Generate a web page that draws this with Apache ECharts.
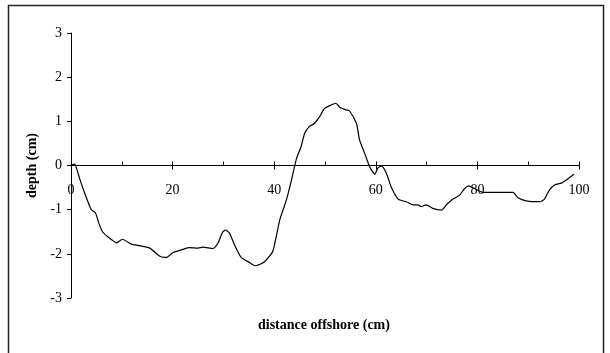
<!DOCTYPE html>
<html><head><meta charset="utf-8">
<script src="https://cdn.jsdelivr.net/npm/echarts@6/dist/echarts.min.js"></script>
<style>html,body{margin:0;padding:0;background:#fff}#c{width:610px;height:353px}</style>
</head><body><div id="c"></div>
<script>
const distance = [0,0.7,1.0,1.8,2.7,3.7,4.0,4.8,5.5,6.2,7.3,9.0,10.1,11.9,13.2,15.5,17.4,18.4,19.0,20.1,22.0,23.3,25.0,26.0,27.9,28.9,29.8,30.4,31.2,32.2,33.5,35.2,36.3,38.1,39.7,40.4,41.1,42.4,43.4,44.4,45.3,46.0,46.9,47.9,48.9,49.9,51.2,52.1,52.9,54.2,54.8,56.2,56.8,57.8,58.8,59.8,60.4,61.1,62.1,63.0,64.4,66.0,67.3,68.3,68.9,69.9,71.2,72.9,73.9,75.2,76.5,77.5,78.3,79.4,81.1,87.0,88.0,89.6,92.3,93.2,94.2,95.2,96.5,97.5,99.0];
const depth = [0,0.03,-0.03,-0.33,-0.63,-0.93,-1.0,-1.07,-1.31,-1.5,-1.62,-1.75,-1.67,-1.78,-1.81,-1.87,-2.05,-2.08,-2.07,-1.97,-1.9,-1.86,-1.87,-1.85,-1.88,-1.76,-1.52,-1.46,-1.53,-1.8,-2.08,-2.2,-2.27,-2.18,-1.95,-1.61,-1.23,-0.78,-0.33,0.16,0.43,0.73,0.88,0.95,1.10,1.29,1.37,1.41,1.32,1.26,1.24,0.95,0.58,0.28,-0.03,-0.2,-0.06,-0.01,-0.18,-0.48,-0.76,-0.82,-0.89,-0.89,-0.93,-0.89,-0.97,-1.01,-0.89,-0.76,-0.67,-0.52,-0.46,-0.52,-0.61,-0.61,-0.73,-0.8,-0.82,-0.76,-0.55,-0.44,-0.40,-0.33,-0.2];
const xTicks = {min: 0, max: 100, major: 20, minor: 10};
const yTicks = {min: -3, max: 3, step: 1};
const xTitle = 'distance offshore (cm)';
const yTitle = 'depth (cm)';

const font = '"Liberation Serif","Times New Roman",serif';
const gridTop = 33, gridBottom = 55, H = 353;
const gridH = H - gridTop - gridBottom;
// x axis crosses y at 0 (middle of -3..3)
const zeroOffset = -gridH * (0 - yTicks.min) / (yTicks.max - yTicks.min);
const chart = echarts.init(document.getElementById('c'), null, {renderer: 'canvas'});
chart.setOption({
  animation: false,
  backgroundColor: '#fff',
  grid: {left: 71, right: 31, top: gridTop, bottom: gridBottom, containLabel: false},
  xAxis: [{
    type: 'value', min: xTicks.min, max: xTicks.max, interval: xTicks.major, position: 'bottom', offset: zeroOffset,
    axisLine: {onZero: false, lineStyle: {color: '#000', width: 1}},
    axisTick: {show: true, length: 4, lineStyle: {color: '#000'}},
    axisLabel: {margin: 18, color: '#000', fontFamily: font, fontSize: 14},
    splitLine: {show: false}
  }, {
    type: 'value', min: xTicks.min, max: xTicks.max, interval: xTicks.minor, position: 'bottom', offset: zeroOffset,
    axisLine: {show: false, onZero: false},
    axisTick: {show: true, inside: true, length: 4, lineStyle: {color: '#000'}},
    axisLabel: {show: false},
    splitLine: {show: false}
  }],
  yAxis: {
    type: 'value', min: yTicks.min, max: yTicks.max, interval: yTicks.step,
    name: yTitle, nameLocation: 'middle', nameGap: 28,
    nameTextStyle: {fontFamily: font, fontSize: 14, fontWeight: 'bold', color: '#000'},
    axisLine: {show: true, onZero: false, lineStyle: {color: '#000', width: 1}},
    axisTick: {show: true, length: 4, lineStyle: {color: '#000'}},
    axisLabel: {margin: 9, color: '#000', fontFamily: font, fontSize: 14},
    splitLine: {show: false}
  },
  graphic: [
    {type: 'rect', shape: {x: 8.5, y: 5.5, width: 595, height: 400}, style: {fill: null, stroke: '#222', lineWidth: 1.5}, silent: true},
    {type: 'text', left: 258, top: 318, style: {text: xTitle, font: 'bold 14px ' + font, fill: '#000'}}
  ],
  series: [{
    type: 'line', xAxisIndex: 0,
    data: distance.map((d, i) => [d, depth[i]]),
    showSymbol: false, smooth: 0.2,
    lineStyle: {color: '#000', width: 1.2}
  }]
});
</script></body></html>
